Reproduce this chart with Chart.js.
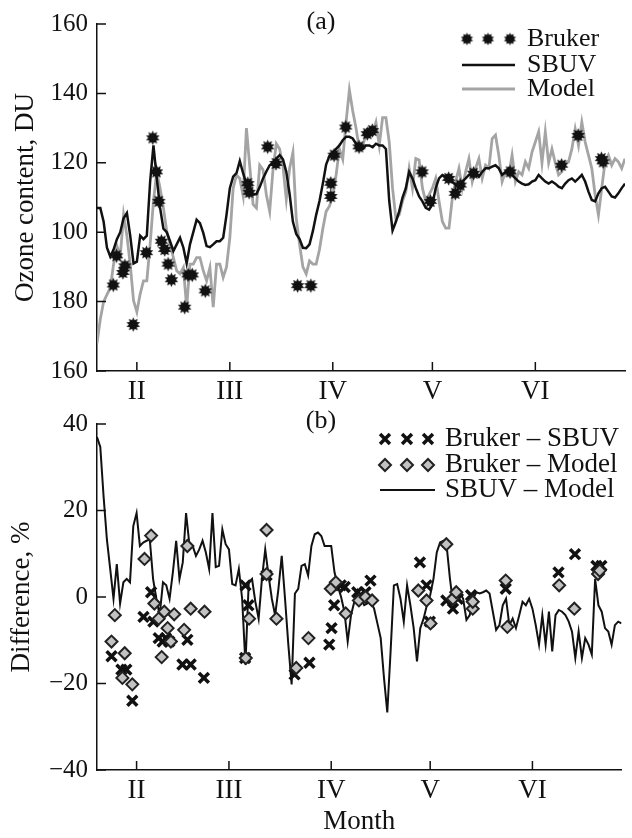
<!DOCTYPE html>
<html><head><meta charset="utf-8">
<script src="https://cdn.jsdelivr.net/npm/chart.js@4.4.1/dist/chart.umd.min.js"></script>
<style>
html,body{margin:0;padding:0;background:#fff;}
#wrap{position:relative;width:632px;height:838px;overflow:hidden;}
#ca{position:absolute;left:0;top:0;}
#cb{position:absolute;left:0;top:400px;}
</style></head><body>
<div id="wrap"><canvas id="ca" width="632" height="400"></canvas><canvas id="cb" width="632" height="438"></canvas></div>
<script>
// ---------- DATA ----------
const firstDay = 20; // day of year of first daily value
const sbuv = [107,107,103,95.5,93,95,98,100,104,105.5,99,91,91.5,99,98,99,114.6,125,115.5,107,
101,100,97.4,94.6,96.5,98.4,95.6,91,96.5,100,103.6,102.6,99.8,96,95.7,96.5,97.4,97.4,98.4,105,
112.7,116,117,120.5,117,114,111.7,110.8,111,113,115.5,117.5,119.3,120,121.2,122.2,121,117.4,111,103,
99.5,98,95.5,95.4,96.5,100.3,105,109,114,119.5,122,123,124,125,126.5,127.5,127.5,127,125.5,124,
124,125,125,124.5,125.5,125,125,124,109,100.5,103,106,110,112.7,117.4,115.5,112.7,110.3,108.9,107,
106.5,108,112.7,115.5,116.5,116,115.5,114.6,113.6,113.6,114.6,115.5,116.5,116.5,117,116,117.4,118.4,118.4,118.9,
119.3,118.4,116.5,117.4,118.4,116.5,115.5,114.6,114,113.6,113.8,114.6,115,116.5,115.5,114.6,114,114.6,114,113.1,
112.7,114,115,115.5,114.6,115.5,116.5,114.6,111.7,109.3,108.9,111.2,112.7,113.1,111.7,110.3,110,111.2,112.7,114];
const model = [68,75,80,82,84,90.8,96,93,105,99,90.8,80.3,77,82.2,86,86,96.5,108.9,117.5,112.7,
107,100.3,96.5,92.7,88.9,88,89.8,78.4,90.8,90.8,92.7,92.7,88.9,86,89.8,78.4,90.8,90.8,87,90,
98.4,112.7,116.5,115.5,110.5,130,119,108,107,119.3,118,110.8,106,118,125.5,124,119,109.5,118.4,123,
104,96.5,90,88,91.7,90.8,90.8,95,101,106,107.5,110.5,116.5,124,121,131.7,141,135,130,124,
125,128,129.8,128.5,131.7,125,133,133,126,112.7,104,105,108.9,111.7,118.4,112.7,121.2,120.8,112.7,108.9,
110.8,112.7,115.5,108.9,103.1,101.2,101.2,109.8,114.6,118.4,112.7,117.4,121.2,114.6,118.4,121.2,115.5,119.3,118.4,127,
128,122.2,114.6,117.4,116.5,122.2,114.6,117.4,116.5,120.3,118.4,123.1,126,128.9,120,128.9,120,124,120,116.5,
117.4,120.3,120.3,124,129.8,125,131.7,126,122.2,118.4,110.8,105,112.7,120.3,122.2,119.3,121.2,120.3,118.4,121.2];
const sbuvMinusModel = [37,34.7,23.2,13.3,6.5,-0.4,7.6,-1.5,3.4,4.2,3.4,16.4,19.4,11.8,12.6,13,13.3,4.2,-0.4,-4.2,
3.4,2.7,-0.4,5.7,13,4.2,8,19.4,12.2,11.8,9.5,11,13,10.3,6.5,19.4,6.9,7.2,15.6,12.2,
11,3,2.7,6.5,-0.4,-15.6,3.4,4.2,-1.1,-5,4.2,11,5,-0.4,-4.2,1.9,9.5,-0.4,-11,-20.2,
0.8,1.9,7.2,7.6,5,11.8,14.5,14.9,14.1,11.8,11.8,11.8,5.7,2.5,0,-3.4,-10.3,-4.2,-1.1,1.5,
-0.4,-1.9,-1.5,-1.1,-2.7,-6.1,-9.5,-18.7,-26.7,-12.6,2.7,3,-0.4,-5.7,2.7,-1.9,-7.2,-14.9,-7.2,-5,
-1.9,0.4,4.2,10.3,12.6,13,11.8,4.2,-1.9,-0.4,1.1,-0.4,-5.3,-4.2,-0.4,1.1,0.8,1.1,1.5,0.8,
-3.4,-7.6,-6.5,-1.9,-0.4,-6.5,-5,-7.2,-4.2,-1.1,-1.9,-0.4,-2.7,-6.5,-11,-4.2,-11,-3.4,-12.6,-4.2,
-3,-3.4,-4.2,-5.7,-8,-14.1,-8,-14.1,-9.5,-11,-13.3,4.2,-1.9,-3.4,-7.2,-8,-11,-6.5,-5.7,-6.1];

const brukerDays  = [24.9,25.9,27.8,28.4,30.9,34.9,36.8,37.9,38.6,39.4,40.4,41.4,42.4,46.4,47.4,48.7,52.6,65.4,65.8,71.4,73.9,80.4,84.4,90.4,90.4,91.4,94.9,98.9,101.4,102.9,117.9,120.4,125.9,127.9,129.4,133.4,144.4,159.9,164.9,171.9,172.4];
const brukerOzone = [84.8,93.2,88.4,90.3,73.4,94.1,127.2,117.4,108.9,97.4,95,90.8,86.3,78.4,87.7,87.7,83.1,114,111.5,124.6,119.8,84.6,84.6,110.3,114.1,122.2,130.3,124.6,128.4,129.3,117.4,108.9,115.5,111.2,113.6,117,117.4,119.3,127.9,121.2,120.3];

const bsDays = [24.4,27.4,28.9,30.7,34.1,36.4,37.1,38.7,39.9,40.9,41.9,45.9,47.4,48.4,52.4,64.9,65.9,65.0,71.4,79.9,84.4,90.4,91.1,91.9,93.9,95.1,98.9,99.9,101.4,102.9,117.9,119.9,120.9,125.9,127.9,129.4,133.4,143.9,159.9,164.9,171.4,172.9];
const bsDiff = [-13.7,-16.8,-16.8,-24,-4.6,1.1,-5.7,-9.5,-10.3,-9.5,-10.3,-15.6,-9.9,-15.6,-18.7,-14.1,-1.9,2.7,5,-17.9,-15.2,-11,-7.2,-1.9,2.7,2.3,1.1,0.4,1.1,3.8,8,2.7,-5.7,-0.8,-2.7,-0.4,0.4,1.9,5.7,9.9,7.2,7.2];

const bmDays = [25.4,24.4,28.4,27.7,30.7,34.4,36.4,37.4,38.7,39.6,40.4,41.4,42.4,43.4,46.4,47.4,48.4,52.6,65.1,66.1,71.4,71.4,74.4,80.4,84.1,90.9,92.4,95.4,99.4,101.4,103.4,117.4,119.9,121.1,125.9,127.9,128.9,133.9,133.9,143.9,144.4,160.1,164.7,171.9,172.4];
const bmDiff = [-4.2,-10.3,-13,-18.7,-20.2,8.8,14.2,-1.5,-5,-13.9,-3.4,-7.2,-10.3,-4,-7.6,11.8,-2.7,-3.4,-14.1,-5,15.5,5.3,-5,-16.4,-9.5,1.9,3.4,-3.8,-0.8,0,-0.8,1.5,-0.8,-6.1,12.2,-0.4,1.1,-2.7,-1.1,3.8,-6.9,2.7,-2.7,5.3,6.1];

const monthDays = [32,60,91,121,152];
const monthLabels = ['II','III','IV','V','VI'];
const ozoneTicks = [60,80,100,120,140,160];
const ozoneTickLabels = ['160','180','100','120','140','160'];
const diffTicks = [-40,-20,0,20,40];
const diffTickLabels = ['\u221240','\u221220','0','20','40'];

// ---------- HELPERS ----------
const serif = "'Liberation Serif','Times New Roman',serif";
const INK = '#111';
const dailyPoints = vals => vals.map((v, i) => ({x: firstDay + i, y: v}));
const pairPoints = (xs, ys) => xs.map((x, i) => ({x: x, y: ys[i]}));

function makeAsterisk(r, inner, n) {
  const s = Math.ceil(r * 2 + 2);
  const c = document.createElement('canvas');
  c.width = s; c.height = s;
  const g = c.getContext('2d');
  g.translate(s / 2, s / 2);
  g.beginPath();
  for (let i = 0; i < 2 * n; i++) {
    const rr = (i % 2) ? r * inner : r;
    const a = i * Math.PI / n - Math.PI / 2;
    g.lineTo(rr * Math.cos(a), rr * Math.sin(a));
  }
  g.closePath();
  g.fillStyle = INK;
  g.fill();
  return c;
}
const asterisk = makeAsterisk(7.2, 0.62, 10);
const asteriskSmall = makeAsterisk(6.3, 0.66, 10);

function drawMarker(ctx, ds, x, y) {
  ctx.save();
  ctx.fillStyle = ds.pointBackgroundColor || ds.backgroundColor || INK;
  ctx.strokeStyle = ds.pointBorderColor || ds.borderColor || INK;
  ctx.lineWidth = ds.pointBorderWidth || 0;
  const style = ds.legendPointStyle || ds.pointStyle;
  Chart.helpers.drawPoint(ctx, {pointStyle: style, radius: ds.pointRadius, borderWidth: ds.pointBorderWidth || 0, rotation: 0}, x, y);
  ctx.restore();
}

const inwardTicks = {
  id: 'inwardTicks',
  afterDraw(chart, args, opts) {
    const {ctx, chartArea} = chart;
    const xs = chart.scales.x, ys = chart.scales.y;
    const len = opts.len || 9;
    ctx.save();
    ctx.strokeStyle = INK; ctx.lineWidth = 1.5;
    ctx.beginPath();
    xs.ticks.forEach(t => {
      const px = xs.getPixelForValue(t.value);
      ctx.moveTo(px, chartArea.bottom); ctx.lineTo(px, chartArea.bottom - len);
    });
    ys.ticks.forEach(t => {
      const py = ys.getPixelForValue(t.value);
      ctx.moveTo(chartArea.left, py); ctx.lineTo(chartArea.left + len, py);
    });
    ctx.stroke();
    ctx.restore();
  }
};

const panelText = {
  id: 'panelText',
  afterDraw(chart, args, opts) {
    const ctx = chart.ctx;
    ctx.save();
    ctx.font = opts.font; ctx.fillStyle = INK;
    ctx.textAlign = 'center'; ctx.textBaseline = 'middle';
    ctx.fillText(opts.text, opts.x, opts.y);
    ctx.restore();
  }
};

const customLegend = {
  id: 'customLegend',
  afterDraw(chart, args, opts) {
    const ctx = chart.ctx;
    ctx.save();
    opts.items.forEach(it => {
      const ds = chart.data.datasets[it.dataset];
      if (it.kind === 'line') {
        ctx.strokeStyle = ds.borderColor; ctx.lineWidth = ds.borderWidth;
        ctx.beginPath(); ctx.moveTo(opts.lineX0, it.y); ctx.lineTo(opts.lineX1, it.y); ctx.stroke();
      } else {
        opts.markerXs.forEach(mx => drawMarker(ctx, ds, mx, it.y));
      }
      ctx.font = opts.font; ctx.fillStyle = INK;
      ctx.textAlign = 'left'; ctx.textBaseline = 'middle';
      ctx.fillText(ds.label, opts.textX, it.y);
    });
    ctx.restore();
  }
};

function xScale(height, withTitle) {
  return {
    type: 'linear', min: 20, max: 179,
    afterBuildTicks: s => { s.ticks = monthDays.map(v => ({value: v})); },
    ticks: {callback: v => monthLabels[monthDays.indexOf(v)], font: {family: serif, size: 27}, color: INK, padding: 5, maxRotation: 0, autoSkip: false},
    grid: {display: false, drawTicks: false},
    border: {display: true, color: INK, width: 1.5},
    title: {display: withTitle, text: 'Month', font: {family: serif, size: 27, lineHeight: 1.2}, color: INK, padding: {top: 0, bottom: 0}},
    afterFit: s => { s.height = height; }
  };
}
function yScale(min, max, tickVals, tickLabels, title, titlePad) {
  return {
    min: min, max: max,
    afterBuildTicks: s => { s.ticks = tickVals.map(v => ({value: v})); },
    ticks: {callback: v => tickLabels[tickVals.indexOf(v)], font: {family: serif, size: 25}, color: INK, padding: 9},
    grid: {display: false, drawTicks: false},
    border: {display: true, color: INK, width: 1.5},
    title: {display: true, text: title, font: {family: serif, size: 27, lineHeight: 1.2}, color: INK, padding: {top: titlePad, bottom: 0}},
    afterFit: s => { s.width = 97; }
  };
}

// ---------- PANEL (a) ----------
new Chart(document.getElementById('ca'), {
  type: 'line',
  data: {datasets: [
    {label: 'Bruker', data: pairPoints(brukerDays, brukerOzone), showLine: false, pointStyle: asterisk, legendPointStyle: asteriskSmall, pointRadius: 7, pointBorderWidth: 0, backgroundColor: INK, borderColor: INK},
    {label: 'SBUV', data: dailyPoints(sbuv), borderColor: INK, borderWidth: 2.5, pointRadius: 0, tension: 0},
    {label: 'Model', data: dailyPoints(model), borderColor: '#a4a4a4', borderWidth: 2.8, pointRadius: 0, tension: 0}
  ]},
  options: {
    responsive: false, animation: false, events: [],
    layout: {padding: {top: 21, right: 5, left: 0, bottom: 0}},
    plugins: {
      legend: {display: false}, tooltip: {enabled: false},
      inwardTicks: {len: 9},
      panelText: {text: '(a)', x: 321, y: 22, font: '26px ' + serif},
      customLegend: {font: '26px ' + serif, textX: 527, markerXs: [467, 488, 510], lineX0: 462, lineX1: 515,
        items: [{dataset: 0, kind: 'marker', y: 39}, {dataset: 1, kind: 'line', y: 65}, {dataset: 2, kind: 'line', y: 89}]}
    },
    scales: {x: xScale(29, false), y: yScale(60, 160, ozoneTicks, ozoneTickLabels, 'Ozone content, DU', 10)}
  },
  plugins: [inwardTicks, panelText, customLegend]
});

// ---------- PANEL (b) ----------
new Chart(document.getElementById('cb'), {
  type: 'line',
  data: {datasets: [
    {label: 'Bruker \u2013 SBUV', data: pairPoints(bsDays, bsDiff), showLine: false, pointStyle: 'crossRot', pointRadius: 7, pointBorderWidth: 3.5, pointBorderColor: INK, pointBackgroundColor: INK, borderColor: INK, order: 1},
    {label: 'Bruker \u2013 Model', data: pairPoints(bmDays, bmDiff), showLine: false, pointStyle: 'rectRot', pointRadius: 6, pointBorderWidth: 2, pointBorderColor: '#222', pointBackgroundColor: '#c2c2c2', borderColor: '#222', order: 0},
    {label: 'SBUV \u2013 Model', data: dailyPoints(sbuvMinusModel), borderColor: INK, borderWidth: 2, pointRadius: 0, tension: 0, order: 2}
  ]},
  options: {
    responsive: false, animation: false, events: [],
    layout: {padding: {top: 20, right: 5, left: 0, bottom: 0}},
    plugins: {
      legend: {display: false}, tooltip: {enabled: false},
      inwardTicks: {len: 9},
      panelText: {text: '(b)', x: 321, y: 21, font: '26px ' + serif},
      customLegend: {font: '27px ' + serif, textX: 445, markerXs: [385, 407, 428], lineX0: 380, lineX1: 435,
        items: [{dataset: 0, kind: 'marker', y: 39}, {dataset: 1, kind: 'marker', y: 65}, {dataset: 2, kind: 'line', y: 90}]}
    },
    scales: {x: xScale(68, true), y: yScale(-40, 40, diffTicks, diffTickLabels, 'Difference, %', 6)}
  },
  plugins: [inwardTicks, panelText, customLegend]
});
</script>
</body></html>
